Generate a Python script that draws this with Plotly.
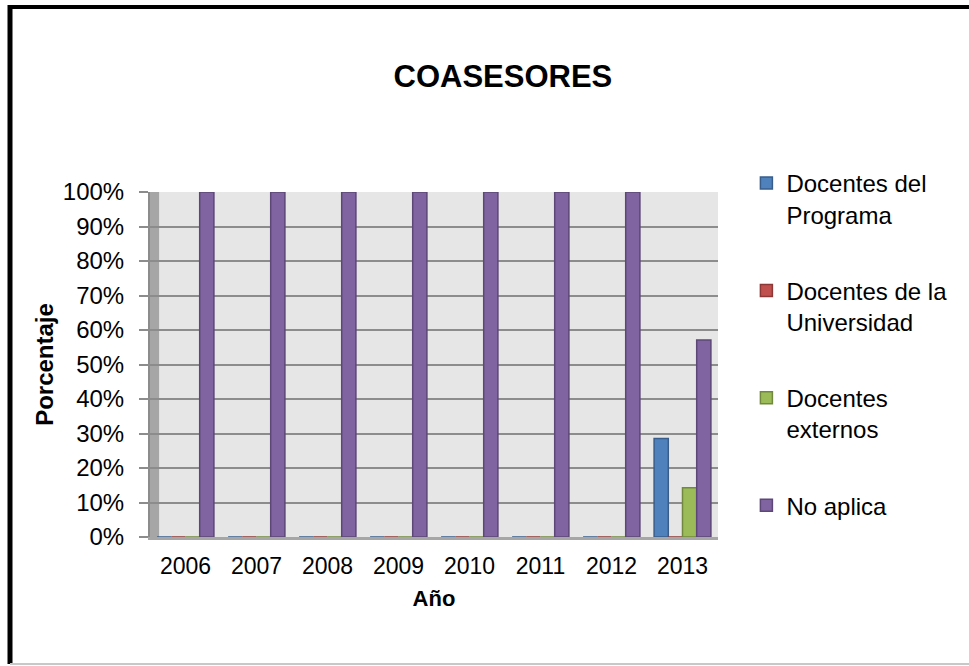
import plotly.graph_objects as go

years = ["2006", "2007", "2008", "2009", "2010", "2011", "2012", "2013"]
docentes_programa = [0, 0, 0, 0, 0, 0, 0, 0.2857]
docentes_universidad = [0, 0, 0, 0, 0, 0, 0, 0]
docentes_externos = [0, 0, 0, 0, 0, 0, 0, 0.1429]
no_aplica = [1, 1, 1, 1, 1, 1, 1, 0.5714]

series = [
    ("Docentes del<br>Programa", docentes_programa, "#4f81bd", "#385d8a"),
    ("Docentes de la<br>Universidad", docentes_universidad, "#c0504d", "#8c3836"),
    ("Docentes<br>externos", docentes_externos, "#9bbb59", "#71893f"),
    ("No aplica", no_aplica, "#8064a2", "#5c4776"),
]

FONT = "Liberation Sans, Arial, sans-serif"
PW, PH = 568, 345  # plot area size in px (for decoration placement)

fig = go.Figure()
for i, (name, vals, col, line) in enumerate(series):
    fig.add_trace(go.Bar(
        x=years, y=vals, name=name, legendgroup=str(i),
        marker=dict(color=col, line=dict(color=line, width=1.5)),
    ))

fig.update_layout(
    width=969, height=666,
    margin=dict(l=150, r=251, t=192, b=129),
    paper_bgcolor="white",
    plot_bgcolor="#e6e6e6",
    barmode="group", bargap=0.2, bargroupgap=0.0,
    font=dict(family=FONT, size=24, color="black"),
    title=dict(text="<b>COASESORES</b>", x=0.519, xanchor="center",
               y=0.886, yanchor="middle", font=dict(size=31, family=FONT)),
    legend=dict(x=1.05, xanchor="left", y=1.09, yanchor="top",
                font=dict(size=24, family=FONT), tracegroupgap=42,
                itemwidth=30, valign="top", bgcolor="rgba(0,0,0,0)",
                maxheight=600),
    xaxis=dict(title=dict(text="<b>Año</b>", font=dict(size=22), standoff=14),
               showgrid=False, ticks="", showline=True, linecolor="#a6a6a6",
               linewidth=3, tickfont=dict(size=23), ticklabelstandoff=6),
    yaxis=dict(title=dict(text="<b>Porcentaje</b>", font=dict(size=24), standoff=2),
               range=[0, 1.0001], dtick=0.1, tickformat=".0%",
               showgrid=True, gridcolor="#8c8c8c", gridwidth=2,
               ticks="outside", ticklen=9, tickcolor="#8c8c8c", tickwidth=2,
               showline=True, linecolor="#8c8c8c", linewidth=2,
               zeroline=False, tickfont=dict(size=24), ticklabelstandoff=10),
    shapes=[
        dict(type="rect", xref="paper", yref="paper", x0=0, x1=0.016, y0=0, y1=1,
             fillcolor="#a6a6a6", line=dict(width=0), layer="below"),
        dict(type="line", xref="paper", yref="paper",
             x0=-(150 - 10) / PW, x1=-(150 - 10) / PW,
             y0=(537 - 5) / PH, y1=-(664 - 537) / PH,
             line=dict(color="black", width=5)),
        dict(type="line", xref="paper", yref="paper",
             x0=-(150 - 8) / PW, x1=(969 - 150) / PW,
             y0=(537 - 7) / PH, y1=(537 - 7) / PH,
             line=dict(color="black", width=4)),
        dict(type="line", xref="paper", yref="paper",
             x0=-(150 - 10) / PW, x1=(969 - 150) / PW,
             y0=-(664 - 537) / PH, y1=-(664 - 537) / PH,
             line=dict(color="#c8c8c8", width=2)),
    ],
)

fig.write_html("out.html", config={"displayModeBar": False},
               post_script="document.body.style.margin='0';document.body.style.overflow='hidden';")
